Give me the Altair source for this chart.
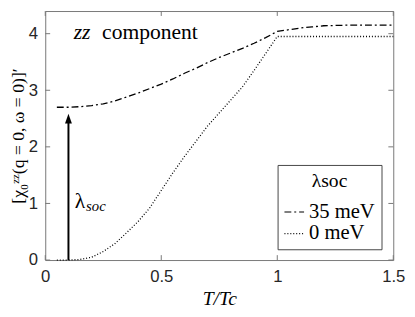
import altair as alt
import pandas as pd

# ---- data ----
T_35 = [0.05, 0.1, 0.15, 0.2, 0.25, 0.3, 0.35, 0.4, 0.45, 0.5, 0.55, 0.6, 0.65, 0.7,
        0.75, 0.8, 0.85, 0.9, 0.95, 1.0, 1.05, 1.1, 1.15, 1.2, 1.3, 1.4, 1.5]
chi_35 = [2.70, 2.70, 2.71, 2.73, 2.76, 2.81, 2.88, 2.95, 3.03, 3.11, 3.20, 3.30, 3.39, 3.49,
          3.58, 3.66, 3.74, 3.83, 3.93, 4.04, 4.07, 4.10, 4.12, 4.14, 4.15, 4.15, 4.15]
T_0 = [0.05, 0.1, 0.15, 0.2, 0.25, 0.3, 0.35, 0.4, 0.45, 0.5, 0.55, 0.6, 0.65, 0.7,
       0.75, 0.8, 0.85, 0.9, 0.95, 1.0, 1.1, 1.2, 1.3, 1.4, 1.5]
chi_0 = [0.0, 0.0, 0.01, 0.05, 0.15, 0.29, 0.48, 0.68, 0.92, 1.23, 1.54, 1.83, 2.10, 2.37,
         2.60, 2.83, 3.06, 3.35, 3.65, 3.95, 3.95, 3.95, 3.95, 3.95, 3.95]
series_labels = ["35 meV", "0 meV"]
x_ticks = [0, 0.5, 1, 1.5]
y_ticks = [0, 1, 2, 3, 4]

# annotations
arrow_x = [0.1]
arrow_y = [0.0]
arrow_y2 = [2.5]
comp_text = ["zz", "component"]
comp_x = [0.1225, 0.245]
comp_y = [3.91, 3.91]
lam_text = ["λ", "soc"]
lam_x = [0.127, 0.176]
lam_y = [0.92, 0.86]

# ---- tables ----
lines_df = pd.concat([
    pd.DataFrame({"T": T_35, "chi": chi_35, "series": series_labels[0]}),
    pd.DataFrame({"T": T_0, "chi": chi_0, "series": series_labels[1]}),
])
xt_df = pd.DataFrame({"v": x_ticks})
yt_df = pd.DataFrame({"v": y_ticks})
arrow_df = pd.DataFrame({"x": arrow_x, "y": arrow_y, "y2": arrow_y2})
comp_df = pd.DataFrame({"x": comp_x, "y": comp_y, "t": comp_text})
lam_df = pd.DataFrame({"x": lam_x, "y": lam_y, "t": lam_text})

W, H = 355, 254
xs = alt.Scale(domain=[0, 1.5], nice=False, zero=False)
ys = alt.Scale(domain=[0, 4.4], nice=False, zero=False)

x_axis = alt.Axis(values=x_ticks, format="~g", ticks=False, domain=False, grid=False,
                  labelFlush=False, labelFont="Liberation Sans", labelFontSize=17,
                  labelColor="#262626", labelPadding=9,
                  title="T/Tc", titleFont="Liberation Serif", titleFontStyle="italic",
                  titleFontWeight="normal", titleFontSize=20, titleColor="black",
                  titleBaseline="middle", titleY=39)
y_axis = alt.Axis(values=y_ticks, format="~g", ticks=False, domain=False, grid=False,
                  labelFlush=False, labelFont="Liberation Sans", labelFontSize=17,
                  labelColor="#262626", labelPadding=8,
                  title="[χ₀ᶻᶻ(q = 0, ω = 0)]′", titleFont="Liberation Serif",
                  titleFontWeight="normal", titleFontSize=18, titleColor="black",
                  titleAngle=-90, titleBaseline="middle", titleX=-27, titleY=H / 2)

lines = alt.Chart(lines_df).mark_line(color="black", strokeWidth=1.3).encode(
    x=alt.X("T:Q", scale=xs, axis=x_axis),
    y=alt.Y("chi:Q", scale=ys, axis=y_axis),
    strokeDash=alt.StrokeDash(
        "series:N",
        scale=alt.Scale(domain=series_labels, range=[[7, 3, 2, 3], [1, 2]]),
        legend=alt.Legend(
            title="λsoc", orient="none", legendX=237, legendY=157,
            strokeColor="#444", fillColor="white", padding=6, cornerRadius=0,
            symbolType="stroke", symbolSize=400, symbolStrokeWidth=1.2,
            symbolStrokeColor="black", labelFont="Liberation Serif",
            labelFontSize=21, labelColor="black", labelOffset=4,
            titleFont="Liberation Serif", titleFontSize=20, titleFontWeight="normal",
            titleColor="black", titleAnchor="middle", titlePadding=11, rowPadding=1,
        ),
    ),
)

tick_color = "#777"
bottom_ticks = alt.Chart(xt_df).mark_rule(color=tick_color).encode(
    x=alt.X("v:Q", scale=xs), y=alt.value(H), y2=alt.value(H - 5))
top_ticks = alt.Chart(xt_df).mark_rule(color=tick_color).encode(
    x=alt.X("v:Q", scale=xs), y=alt.value(0), y2=alt.value(5))
left_ticks = alt.Chart(yt_df).mark_rule(color=tick_color).encode(
    y=alt.Y("v:Q", scale=ys), x=alt.value(0), x2=alt.value(5))
right_ticks = alt.Chart(yt_df).mark_rule(color=tick_color).encode(
    y=alt.Y("v:Q", scale=ys), x=alt.value(W), x2=alt.value(W - 5))

shaft = alt.Chart(arrow_df).mark_rule(color="black", strokeWidth=2).encode(
    x=alt.X("x:Q", scale=xs), y=alt.Y("y:Q", scale=ys), y2="y2:Q")
head = alt.Chart(arrow_df).mark_point(
    shape="M0,-1L-0.7,1L0.7,1Z", filled=True, color="black", size=100, opacity=1
).encode(x=alt.X("x:Q", scale=xs), y=alt.Y("y2:Q", scale=ys))

zz = alt.Chart(comp_df.iloc[[0]]).mark_text(
    align="left", baseline="alphabetic", font="Liberation Serif", fontSize=22,
    fontStyle="italic", color="black").encode(
    x=alt.X("x:Q", scale=xs), y=alt.Y("y:Q", scale=ys), text="t:N")
comp = alt.Chart(comp_df.iloc[[1]]).mark_text(
    align="left", baseline="alphabetic", font="Liberation Serif", fontSize=22,
    color="black").encode(
    x=alt.X("x:Q", scale=xs), y=alt.Y("y:Q", scale=ys), text="t:N")
lam = alt.Chart(lam_df.iloc[[0]]).mark_text(
    align="left", baseline="alphabetic", font="Liberation Serif", fontSize=22,
    color="black").encode(
    x=alt.X("x:Q", scale=xs), y=alt.Y("y:Q", scale=ys), text="t:N")
soc = alt.Chart(lam_df.iloc[[1]]).mark_text(
    align="left", baseline="alphabetic", font="Liberation Serif", fontSize=15,
    fontStyle="italic", color="black").encode(
    x=alt.X("x:Q", scale=xs), y=alt.Y("y:Q", scale=ys), text="t:N")

chart = alt.layer(
    lines, bottom_ticks, top_ticks, left_ticks, right_ticks, shaft, head, zz, comp, lam, soc
).properties(
    width=W, height=H,
    autosize=alt.AutoSizeParams(type="none"),
    padding={"left": 38, "top": 0, "right": 14, "bottom": 55},
).configure_view(stroke="#777", strokeWidth=1)

chart.save("out.html", embed_options={"renderer": "svg", "actions": False})
